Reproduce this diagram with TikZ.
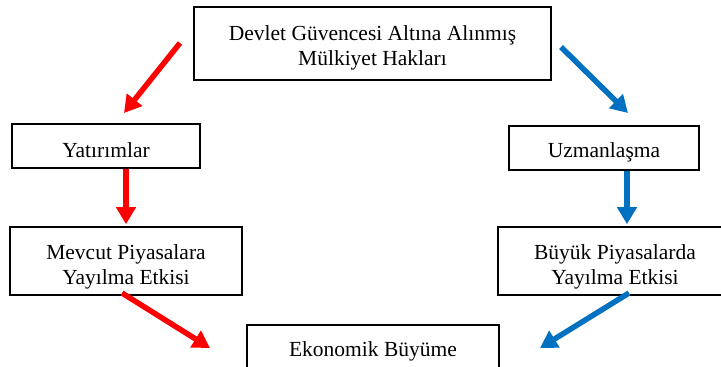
\documentclass[tikz,border=0pt]{standalone}
\usepackage{fontspec}
\setmainfont{Liberation Serif}
\usetikzlibrary{positioning, arrows.meta, calc}
\definecolor{redaccent}{RGB}{255,0,0}
\definecolor{blueaccent}{RGB}{0,112,192}
\newcommand{\lift}[1]{\rule{0pt}{#1pt}}

\begin{document}
\begin{tikzpicture}[x=1pt, y=-1pt,
  box/.style={draw, line width=1.6pt, align=center, inner sep=0pt,
    font=\fontsize{21.5}{25}\selectfont},
  redarrow/.style={-{Triangle[length=17pt,width=19pt]}, line width=5.5pt, redaccent},
  bluearrow/.style={-{Triangle[length=17pt,width=19pt]}, line width=5.5pt, blueaccent}]
  \useasboundingbox (0,0) rectangle (721,367);
  \node[box, minimum width=357, minimum height=73] (hak) at (372.5,43.5)
    {\lift{23}Devlet Güvencesi Altına Alınmış\\Mülkiyet Hakları};
  \node[box, minimum width=188, minimum height=44] (yat) at (106,146) {\lift{23}Yatırımlar};
  \node[box, minimum width=190, minimum height=44] (uzm) at (604,148) {\lift{24}Uzmanlaşma};
  \node[box, minimum width=232, minimum height=68] (mev) at (126,261)
    {\lift{27}Mevcut Piyasalara\\Yayılma Etkisi};
  \node[box, minimum width=234, minimum height=68] (buy) at (615,261)
    {\lift{27}Büyük Piyasalarda\\Yayılma Etkisi};
  \node[box, minimum width=252, minimum height=48] (eko) at (373,349) {\lift{19}Ekonomik Büyüme};
  \coordinate (r1s) at (180,43);
  \coordinate (r1e) at (124,113);
  \coordinate (b1s) at (561,47);
  \coordinate (b1e) at (628,113);
  \coordinate (b2x) at (627,0);
  \coordinate (r3s) at (122,293);
  \coordinate (r3e) at (210,348);
  \coordinate (b3s) at (629,293);
  \coordinate (b3e) at (540,348);
  \draw[redarrow] (r1s) -- (r1e);
  \draw[bluearrow] (b1s) -- (b1e);
  \draw[redarrow, shorten >=2pt] (yat.south -| mev.north) -- (mev.north);
  \draw[bluearrow, shorten >=2pt] (uzm.south -| b2x) -- (buy.north -| b2x);
  \draw[redarrow] (r3s) -- (r3e);
  \draw[bluearrow] (b3s) -- (b3e);
\end{tikzpicture}
\end{document}
